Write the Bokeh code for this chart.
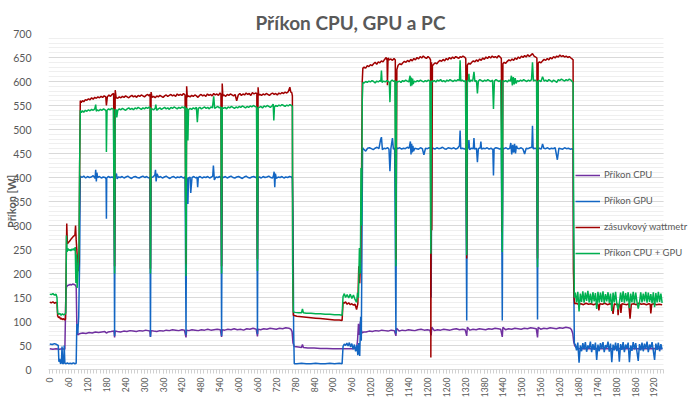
import math
from bokeh.plotting import figure
from bokeh.models import Range1d, SingleIntervalTicker, Legend, LegendItem
from bokeh.embed import file_html
from bokeh.resources import INLINE

# ---------------- data (time [s], power [W]) ----------------
cpu_t = [0, 10, 20, 30, 40, 48, 51, 53, 57, 61, 65, 69, 73, 77, 81, 84, 86, 89, 93, 97,
         105, 115, 125, 135, 145, 155, 165, 175, 180, 185, 195, 204, 206, 208,
         215, 225, 235, 245, 255, 265, 275, 285, 295, 305, 312, 318, 320, 322,
         330, 340, 350, 360, 370, 380, 390, 400, 410, 420, 428, 433, 435,
         442, 452, 462, 472, 482, 492, 502, 512, 522, 532, 542, 546, 548,
         556, 566, 576, 586, 596, 606, 616, 626, 636, 646, 656, 660, 662,
         670, 680, 690, 700, 710, 720, 730, 740, 750, 760, 766, 770, 773, 777,
         790, 800, 803, 806, 820, 840, 860, 880, 900, 920, 940, 960, 975, 978, 981, 984, 987, 990, 993, 997,
         1005, 1015, 1025, 1035, 1045, 1055, 1065, 1075, 1085, 1095, 1100, 1102,
         1110, 1120, 1130, 1140, 1150, 1160, 1170, 1180, 1190, 1200, 1208, 1212, 1214,
         1222, 1232, 1242, 1252, 1262, 1272, 1282, 1292, 1302, 1312, 1320, 1325, 1327,
         1335, 1345, 1355, 1365, 1375, 1385, 1395, 1405, 1415, 1425, 1433, 1438, 1440,
         1448, 1458, 1468, 1478, 1488, 1498, 1508, 1518, 1528, 1538, 1546, 1550, 1552,
         1560, 1570, 1580, 1590, 1600, 1610, 1620, 1630, 1640, 1648, 1654, 1658, 1662, 1665, 1668, 1672, 1680,
         1700, 1730, 1760, 1790, 1820, 1850, 1880, 1910, 1946]
cpu_w = [43, 42, 43, 42, 43, 42, 150, 172, 175, 176, 177, 176, 178, 177, 176, 172, 95, 72, 74, 75,
         76, 75, 77, 76, 78, 77, 78, 79, 76, 78, 79, 80, 67, 80,
         79, 78, 80, 79, 81, 80, 79, 81, 80, 82, 81, 80, 68, 81,
         80, 79, 81, 80, 82, 81, 83, 82, 81, 83, 82, 67, 82,
         81, 83, 82, 81, 83, 82, 84, 82, 83, 84, 83, 68, 83,
         82, 84, 83, 85, 83, 84, 82, 85, 84, 86, 84, 69, 84,
         83, 85, 84, 86, 85, 84, 86, 85, 87, 86, 84, 79, 55, 48,
         47, 46, 52, 46, 45, 45, 44, 44, 43, 43, 43, 43, 44, 60, 95, 72, 100, 82, 76, 78,
         78, 80, 79, 81, 80, 82, 81, 80, 82, 81, 70, 86,
         80, 82, 81, 83, 82, 81, 83, 84, 82, 83, 82, 71, 88,
         81, 83, 82, 84, 83, 82, 84, 85, 83, 84, 83, 70, 88,
         82, 84, 83, 85, 84, 83, 85, 84, 86, 85, 84, 68, 88,
         83, 85, 84, 86, 85, 84, 86, 85, 87, 86, 85, 67, 88,
         84, 86, 85, 87, 86, 85, 87, 86, 88, 87, 86, 83, 75, 58, 50, 46, 44,
         43, 44, 43, 43, 44, 43, 43, 44, 43]

gpu_t = [0, 8, 15, 22, 27, 29, 32, 34, 37, 39, 41, 44, 46, 48, 52, 56, 60, 65, 70, 75, 80, 84, 86, 89, 92, 95, 97,
         102, 108, 114, 120, 126, 132, 138, 144, 146, 148, 150, 152, 158, 164, 170, 176, 179, 180, 181, 186, 192, 198, 204,
         206, 208,
         212, 214, 218, 224, 230, 236, 242, 248, 254, 260, 266, 272, 278, 284, 290, 296, 302, 308, 314, 318,
         320, 322,
         328, 334, 336, 338, 341, 346, 352, 358, 364, 370, 376, 382, 388, 394, 400, 406, 412, 418, 424, 430,
         433, 435,
         437, 439, 441, 446, 448, 452, 458, 464, 468, 470, 472, 478, 484, 490, 496, 502, 508, 514, 518, 520, 523, 528, 534, 540, 544,
         546, 548,
         552, 558, 564, 570, 576, 582, 588, 594, 600, 606, 612, 618, 624, 630, 636, 642, 648, 654, 658,
         660, 662,
         666, 672, 678, 684, 690, 696, 702, 708, 711, 713, 715, 717, 720, 726, 732, 738, 744, 750, 756, 762, 768, 771, 773, 775, 777,
         785, 800, 815, 830, 845, 860, 875, 890, 905, 920, 929, 932, 936, 940, 944, 948, 952, 956, 960, 964, 968, 972, 976, 979, 982, 985, 988, 990, 992, 994,
         998, 1004, 1010, 1016, 1022, 1028, 1034, 1040, 1046, 1051, 1054, 1057, 1062, 1068, 1074, 1078, 1081, 1084, 1089, 1092, 1096,
         1100, 1102,
         1106, 1112, 1118, 1124, 1130, 1136, 1142, 1146, 1148, 1150, 1152, 1154, 1156, 1160, 1166, 1172, 1178, 1184, 1189, 1194, 1200, 1206, 1210,
         1212, 1214,
         1218, 1224, 1230, 1236, 1242, 1248, 1254, 1260, 1266, 1272, 1278, 1284, 1290, 1296, 1302, 1304, 1306, 1312, 1318, 1322,
         1325, 1327,
         1330, 1332, 1334, 1340, 1346, 1348, 1350, 1356, 1359, 1362, 1368, 1370, 1372, 1378, 1384, 1390, 1396, 1402, 1408, 1410, 1412, 1418, 1424, 1430, 1435,
         1438, 1440,
         1444, 1450, 1456, 1462, 1465, 1468, 1471, 1474, 1477, 1480, 1483, 1486, 1492, 1498, 1504, 1509, 1514, 1520, 1526, 1532, 1534, 1536, 1542, 1547,
         1550, 1552,
         1556, 1562, 1566, 1570, 1576, 1582, 1588, 1594, 1600, 1606, 1613, 1618, 1624, 1630, 1636, 1642, 1648, 1654, 1660, 1663, 1665, 1667,
         1670, 1674, 1678, 1682, 1686, 1690, 1694, 1698, 1702, 1706, 1710, 1714, 1718, 1722, 1726, 1730, 1734, 1738, 1742, 1746,
         1750, 1754, 1758, 1762, 1766, 1770, 1774, 1778, 1782, 1786, 1790, 1794, 1798, 1802, 1806, 1810, 1814, 1818, 1822, 1826,
         1830, 1834, 1838, 1842, 1846, 1850, 1854, 1858, 1862, 1866, 1870, 1874, 1878, 1882, 1886, 1890, 1894, 1898, 1902, 1906,
         1910, 1914, 1918, 1922, 1926, 1930, 1934, 1938, 1942, 1946]
gpu_w = [53, 52, 54, 52, 50, 16, 22, 12, 14, 48, 12, 13, 50, 13, 12, 14, 12, 13, 12, 14, 12, 13, 95, 75, 110, 230, 403,
         400, 403, 399, 402, 400, 401, 404, 398, 416, 392, 410, 400, 402, 399, 401, 400, 397, 314, 399, 402, 400, 401, 399,
         70, 402,
         408, 397, 401, 400, 402, 399, 401, 403, 400, 398, 401, 402, 400, 399, 401, 403, 400, 402, 399, 401,
         68, 400,
         401, 405, 416, 392, 408, 400, 402, 399, 401, 403, 400, 398, 401, 402, 399, 401, 400, 402, 399, 401,
         72, 400,
         396, 345, 399, 401, 368, 400, 402, 399, 401, 380, 400, 402, 399, 401, 400, 402, 399, 401, 403, 425, 395, 401, 400, 402, 399,
         70, 401,
         400, 402, 399, 401, 403, 400, 399, 401, 402, 400, 398, 401, 403, 400, 399, 401, 402, 400, 401,
         74, 400,
         401, 399, 402, 400, 401, 403, 400, 399, 404, 412, 380, 408, 398, 401, 400, 402, 399, 401, 400, 402, 401, 398, 320, 80, 12,
         12, 13, 12, 12, 13, 12, 12, 13, 12, 13, 12, 48, 53, 50, 55, 49, 56, 47, 54, 42, 52, 38, 51, 30, 55, 28, 110, 60, 250, 462,
         459, 455, 461, 462, 460, 458, 461, 463, 460, 478, 484, 458, 461, 460, 462, 459, 413, 460, 482, 459, 461,
         75, 462,
         460, 462, 459, 461, 460, 463, 461, 475, 448, 470, 452, 466, 455, 461, 460, 459, 462, 460, 447, 461, 460, 462, 461,
         150, 461,
         461, 459, 462, 460, 461, 463, 460, 459, 462, 461, 460, 462, 459, 461, 466, 498, 460, 461, 459, 462,
         102, 460,
         462, 478, 458, 461, 460, 482, 459, 461, 432, 460, 462, 475, 459, 461, 460, 462, 459, 461, 458, 404, 460, 462, 461, 459, 461,
         102, 461,
         460, 462, 459, 461, 472, 448, 468, 452, 470, 450, 466, 461, 460, 462, 459, 449, 461, 460, 462, 463, 508, 460, 461, 460,
         104, 460,
         461, 459, 470, 461, 460, 462, 459, 461, 460, 462, 437, 461, 460, 459, 462, 460, 461, 459, 460, 458, 200, 55,
         52, 40, 56, 14, 50, 38, 55, 42, 57, 37, 50, 44, 58, 36, 53, 41, 56, 20, 52, 38,
         55, 43, 57, 36, 51, 45, 58, 37, 54, 15, 52, 40, 56, 38, 55, 16, 53, 41, 57, 36,
         52, 44, 56, 15, 50, 39, 57, 42, 55, 37, 18, 53, 40, 56, 38, 54, 43, 58, 36, 52,
         45, 57, 39, 20, 54, 41, 56, 38, 53, 42]

wall_t = [0, 5, 10, 15, 20, 23, 25, 28, 31, 34, 37, 40, 44, 47, 50, 52, 54, 56, 60, 64, 68, 72, 76, 80, 82, 84, 87, 90, 93, 95, 97,
          100, 104, 108, 113, 118, 123, 128, 133, 138, 143, 148, 153, 158, 163, 168, 173, 178, 180, 183, 188, 193, 198, 203,
          206, 208,
          211, 216, 221, 226, 231, 236, 241, 246, 251, 256, 261, 266, 271, 276, 281, 286, 291, 296, 301, 306, 311, 316, 319,
          320, 322,
          325, 330, 335, 340, 345, 350, 355, 360, 365, 370, 375, 380, 385, 390, 395, 400, 405, 410, 415, 420, 425, 430,
          433, 435, 437,
          441, 446, 451, 456, 461, 466, 471, 476, 481, 486, 491, 496, 501, 506, 511, 516, 521, 526, 531, 536, 541, 544,
          546, 548, 550,
          554, 559, 564, 569, 574, 579, 584, 589, 594, 599, 604, 609, 614, 619, 624, 629, 634, 639, 644, 649, 654, 658,
          660, 662, 664,
          668, 673, 678, 683, 688, 693, 698, 703, 708, 713, 718, 723, 728, 733, 738, 743, 748, 753, 758, 763, 766, 769, 771,
          772, 774,
          785, 800, 815, 830, 845, 860, 875, 890, 905, 920, 929, 932, 936, 940, 945, 950, 955, 960, 965, 970, 975, 979, 982, 985, 988, 991, 993, 995,
          999, 1004, 1009, 1014, 1019, 1024, 1029, 1034, 1039, 1044, 1049, 1054, 1059, 1064, 1069, 1072, 1073, 1075, 1079, 1084, 1089, 1094, 1098,
          1100, 1103,
          1107, 1112, 1117, 1122, 1127, 1132, 1137, 1142, 1147, 1152, 1157, 1162, 1167, 1172, 1177, 1182, 1187, 1192, 1197, 1202, 1207, 1210,
          1211, 1213, 1214, 1216,
          1220, 1225, 1230, 1235, 1240, 1245, 1250, 1255, 1260, 1265, 1270, 1275, 1280, 1285, 1290, 1295, 1300, 1304, 1308, 1313, 1318, 1322,
          1325, 1327,
          1331, 1336, 1341, 1346, 1351, 1356, 1361, 1366, 1371, 1376, 1381, 1386, 1391, 1396, 1401, 1406, 1411, 1416, 1421, 1426, 1431, 1435,
          1438, 1440,
          1444, 1449, 1454, 1459, 1464, 1469, 1474, 1479, 1484, 1489, 1494, 1499, 1504, 1509, 1514, 1519, 1524, 1529, 1534, 1539, 1544, 1548,
          1550, 1552,
          1556, 1561, 1566, 1571, 1576, 1581, 1586, 1591, 1596, 1601, 1606, 1611, 1616, 1621, 1626, 1631, 1636, 1641, 1646, 1651, 1656, 1660, 1663,
          1664, 1666, 1668,
          1672, 1680, 1688, 1696, 1704, 1712, 1720, 1728, 1736, 1742, 1745, 1748, 1756, 1764, 1772, 1780, 1786, 1790, 1794, 1800,
          1804, 1806, 1809, 1813, 1815, 1818, 1826, 1834, 1840, 1844, 1848, 1856, 1864, 1872, 1880, 1888, 1896, 1904, 1908, 1910,
          1913, 1920, 1928, 1936, 1946]
wall_w = [140, 139, 141, 138, 140, 139, 112, 108, 110, 105, 107, 104, 106, 103, 105, 200, 304, 262, 265, 268, 272, 275, 278, 280, 300, 270, 240, 205, 230, 420, 560,
          556, 560, 558, 562, 561, 564, 562, 566, 563, 567, 565, 568, 566, 569, 567, 570, 568, 550, 568, 572, 569, 573, 575,
          215, 582,
          566, 565, 568, 566, 569, 567, 570, 568, 566, 569, 571, 568, 570, 567, 571, 569, 572, 570, 568, 571, 573, 570, 574,
          210, 578,
          567, 569, 566, 570, 568, 571, 569, 567, 570, 572, 569, 571, 573, 570, 572, 569, 574, 571, 573, 571, 575, 572,
          220, 590, 568,
          570, 568, 571, 569, 572, 570, 567, 571, 573, 570, 572, 569, 574, 571, 573, 570, 575, 572, 574, 571, 576, 573,
          215, 596, 570,
          572, 569, 573, 571, 574, 572, 570, 573, 560, 572, 575, 571, 574, 572, 576, 573, 575, 571, 577, 574, 576, 575,
          230, 588, 572,
          573, 571, 574, 572, 575, 573, 571, 574, 576, 573, 575, 572, 576, 574, 577, 575, 578, 576, 579, 588, 578, 577, 570,
          220, 113,
          111, 110, 109, 108, 107, 106, 105, 104, 103, 103, 102, 140, 138, 141, 136, 139, 135, 137, 134, 136, 125, 137, 215, 180, 235, 420, 600, 628,
          630, 628, 633, 631, 635, 633, 637, 640, 636, 641, 639, 643, 641, 646, 650, 644, 592, 649, 645, 647, 644, 648, 645,
          229, 625,
          634, 637, 635, 639, 642, 640, 644, 641, 646, 643, 648, 645, 650, 647, 652, 649, 653, 650, 648, 652, 649, 645,
          25, 640, 290, 633,
          636, 639, 637, 641, 644, 642, 646, 643, 648, 645, 650, 647, 651, 648, 652, 650, 648, 652, 650, 653, 651, 648,
          231, 634,
          638, 636, 640, 643, 641, 645, 642, 647, 644, 649, 646, 651, 648, 652, 649, 653, 650, 652, 649, 654, 651, 648,
          286, 637,
          640, 638, 642, 645, 643, 647, 644, 649, 646, 651, 648, 653, 650, 654, 651, 656, 652, 655, 658, 653, 651, 649,
          231, 638,
          641, 639, 643, 646, 644, 648, 645, 650, 647, 652, 649, 653, 651, 655, 652, 654, 651, 653, 650, 652, 649, 647, 645,
          209, 150, 137,
          138, 136, 137, 135, 138, 136, 137, 135, 137, 136, 123, 137, 136, 138, 135, 137, 136, 116, 137, 135,
          137, 113, 136, 135, 118, 137, 136, 135, 137, 106, 136, 137, 135, 138, 136, 137, 135, 137, 136, 117,
          136, 137, 135, 136, 135]

sum_t = [0, 5, 10, 15, 20, 23, 25, 28, 32, 36, 40, 44, 48, 51, 53, 55, 58, 61, 64, 67, 70, 73, 76, 79, 81, 83, 85, 87, 90, 93, 95, 97,
         100, 104, 108, 113, 118, 123, 128, 133, 138, 143, 146, 148, 151, 156, 161, 166, 171, 176, 179, 180, 182, 187, 192, 197, 202,
         206, 208,
         211, 213, 216, 221, 226, 231, 236, 241, 246, 251, 256, 261, 266, 271, 276, 281, 286, 291, 296, 301, 306, 311, 316, 319,
         320, 322,
         325, 330, 335, 337, 340, 345, 350, 355, 360, 365, 370, 375, 380, 385, 390, 395, 400, 405, 410, 415, 420, 425, 430,
         433, 435,
         437, 439, 441, 446, 451, 456, 461, 466, 469, 472, 477, 482, 487, 492, 497, 502, 507, 512, 517, 521, 524, 529, 534, 539, 544,
         546, 548,
         552, 557, 562, 567, 572, 577, 582, 587, 592, 597, 602, 607, 612, 617, 622, 627, 632, 637, 642, 647, 652, 657,
         660, 662,
         666, 671, 676, 681, 686, 691, 696, 701, 706, 710, 712, 714, 718, 723, 728, 733, 738, 743, 748, 753, 758, 763, 768, 771,
         772, 774,
         780, 790, 800, 803, 806, 815, 830, 845, 860, 875, 890, 905, 920, 929, 932, 936, 940, 945, 950, 955, 960, 965, 970, 975, 978, 981, 984, 987, 989, 991, 993, 995,
         999, 1004, 1009, 1014, 1019, 1024, 1029, 1034, 1039, 1044, 1049, 1052, 1054, 1056, 1061, 1066, 1071, 1076, 1079, 1081, 1083, 1088, 1093, 1097,
         1100, 1102,
         1106, 1111, 1116, 1121, 1126, 1131, 1136, 1141, 1145, 1147, 1149, 1151, 1153, 1155, 1158, 1163, 1168, 1173, 1178, 1183, 1188, 1193, 1198, 1203, 1208,
         1211, 1213,
         1217, 1222, 1227, 1232, 1237, 1242, 1247, 1252, 1257, 1262, 1267, 1272, 1277, 1282, 1287, 1292, 1297, 1302, 1304, 1306, 1311, 1316, 1321,
         1325, 1327,
         1330, 1332, 1334, 1339, 1344, 1348, 1351, 1356, 1359, 1362, 1367, 1372, 1377, 1382, 1387, 1392, 1397, 1402, 1407, 1410, 1413, 1418, 1423, 1428, 1433,
         1438, 1440,
         1444, 1449, 1454, 1459, 1464, 1467, 1470, 1473, 1476, 1479, 1482, 1486, 1491, 1496, 1501, 1506, 1511, 1516, 1521, 1526, 1531, 1534, 1537, 1542, 1547,
         1550, 1552,
         1556, 1561, 1566, 1571, 1576, 1581, 1586, 1591, 1596, 1601, 1606, 1611, 1616, 1621, 1626, 1631, 1636, 1641, 1646, 1651, 1656, 1660, 1663,
         1665, 1667,
         1670, 1674, 1678, 1682, 1686, 1690, 1694, 1698, 1702, 1706, 1710, 1714, 1718, 1722, 1726, 1730, 1734, 1738, 1742, 1746,
         1750, 1754, 1758, 1762, 1766, 1770, 1774, 1778, 1782, 1786, 1790, 1794, 1798, 1802, 1806, 1810, 1814, 1818, 1822, 1826,
         1830, 1834, 1838, 1842, 1846, 1850, 1854, 1858, 1862, 1866, 1870, 1874, 1878, 1882, 1886, 1890, 1894, 1898, 1902, 1906,
         1910, 1914, 1918, 1922, 1926, 1930, 1934, 1938, 1942, 1946]
sum_w = [157, 156, 158, 155, 157, 150, 118, 115, 117, 113, 116, 114, 115, 118, 279, 245, 252, 248, 250, 247, 251, 249, 252, 248, 255, 180, 240, 170, 210, 250, 430, 540,
         535, 539, 536, 540, 538, 541, 539, 542, 540, 543, 552, 538, 541, 539, 542, 540, 543, 541, 538, 453, 540, 543, 541, 544, 542,
         200, 541,
         541, 525, 540, 543, 541, 544, 542, 540, 543, 545, 542, 544, 541, 545, 543, 546, 544, 542, 545, 543, 546, 544, 547, 545,
         200, 542,
         543, 541, 544, 552, 540, 543, 545, 542, 544, 546, 543, 545, 542, 546, 544, 547, 545, 543, 546, 544, 547, 545, 548,
         195, 545,
         543, 477, 541, 544, 542, 545, 543, 546, 515, 544, 546, 543, 545, 547, 544, 546, 543, 547, 545, 569, 544, 546, 548, 545, 547,
         200, 546,
         544, 546, 543, 547, 545, 548, 546, 544, 547, 545, 548, 546, 549, 547, 545, 548, 546, 549, 547, 550, 548, 547,
         205, 545,
         546, 548, 545, 549, 547, 550, 548, 546, 549, 553, 519, 547, 550, 548, 551, 549, 552, 550, 548, 551, 549, 552, 550, 548,
         200, 120,
         119, 118, 118, 126, 118, 117, 117, 116, 116, 115, 115, 114, 114, 113, 152, 158, 150, 156, 149, 157, 148, 155, 146, 140, 160, 150, 253, 200, 420, 300, 560, 598,
         597, 600, 598, 601, 599, 602, 600, 597, 601, 599, 602, 600, 623, 598, 601, 599, 602, 600, 598, 557, 600, 603, 600, 602,
         215, 600,
         599, 601, 598, 602, 600, 603, 601, 599, 612, 590, 608, 592, 606, 595, 601, 599, 602, 600, 603, 601, 599, 602, 600, 603, 601,
         241, 601,
         600, 602, 599, 603, 601, 604, 600, 602, 599, 603, 601, 604, 602, 600, 603, 601, 604, 602, 644, 601, 603, 600, 602,
         238, 602,
         601, 616, 599, 603, 601, 620, 600, 602, 575, 601, 604, 602, 600, 603, 601, 604, 602, 600, 603, 543, 601, 604, 602, 600, 603,
         245, 602,
         600, 602, 599, 603, 601, 612, 592, 609, 594, 607, 596, 602, 600, 603, 601, 604, 602, 600, 603, 601, 604, 640, 601, 603, 600,
         213, 601,
         602, 600, 610, 601, 603, 600, 604, 602, 599, 603, 601, 598, 604, 602, 605, 603, 601, 604, 602, 605, 603, 600, 598,
         300, 150,
         160, 140, 162, 121, 158, 141, 163, 139, 160, 143, 164, 140, 158, 138, 161, 142, 159, 126, 162, 139,
         160, 141, 163, 138, 157, 142, 161, 139, 158, 122, 160, 140, 162, 137, 125, 138, 160, 141, 163, 139,
         159, 142, 161, 128, 158, 140, 162, 138, 160, 141, 127, 139, 161, 140, 158, 142, 162, 139, 160, 141,
         157, 138, 161, 130, 159, 140, 162, 141, 158, 139]

series_names = ["Příkon CPU", "Příkon GPU", "zásuvkový wattmetr", "Příkon CPU + GPU"]
series_colors = ["#7030A0", "#1366C3", "#A00000", "#00B050"]
title_text = "Příkon CPU, GPU a PC"
y_label = "Příkon [W]"
x_last = 1950

# ---------------- figure ----------------
FONT = "Lato"
TXT = "#595959"

p = figure(width=695, height=406, output_backend="svg", toolbar_location=None,
           x_range=Range1d(-4, 2052), y_range=Range1d(0, 700),
           min_border_left=48, min_border_right=0, min_border_top=33, min_border_bottom=37,
           title=title_text)
p.outline_line_color = None
p.background_fill_color = "white"
p.border_fill_color = "white"

p.title.text_font = FONT
p.title.text_font_style = "bold"
p.title.text_font_size = "19px"
p.title.text_color = TXT
p.title.align = "left"
p.title.offset = 207
p.title.standoff = 0

# y axis
p.yaxis.ticker = SingleIntervalTicker(interval=50, num_minor_ticks=5)
p.yaxis.axis_line_color = None
p.yaxis.major_tick_line_color = None
p.yaxis.minor_tick_line_color = None
p.yaxis.major_label_text_font = FONT
p.yaxis.major_label_text_font_size = "10.5px"
p.yaxis.major_label_text_color = TXT
p.yaxis.major_label_standoff = 11
p.yaxis.axis_label = y_label
p.yaxis.axis_label_text_font = FONT
p.yaxis.axis_label_text_font_style = "bold"
p.yaxis.axis_label_text_font_size = "11px"
p.yaxis.axis_label_text_color = TXT
p.yaxis.axis_label_standoff = -8

p.ygrid.grid_line_color = "#D9D9D9"
p.ygrid.minor_grid_line_color = "#EFEFEF"
p.ygrid.cross_bounds = (-4, x_last)
p.xgrid.grid_line_color = None

# x axis
p.xaxis.ticker = SingleIntervalTicker(interval=60, num_minor_ticks=6)
p.xaxis.bounds = (-4, x_last)
p.xaxis.axis_line_color = "#D9D9D9"
p.xaxis.major_tick_line_color = "#D0D0D0"
p.xaxis.minor_tick_line_color = "#D0D0D0"
p.xaxis.major_tick_out = 4
p.xaxis.major_tick_in = 0
p.xaxis.minor_tick_out = 4
p.xaxis.minor_tick_in = 0
p.xaxis.major_label_orientation = math.pi / 2
p.xaxis.major_label_text_font = FONT
p.xaxis.major_label_text_font_size = "8.5px"
p.xaxis.major_label_text_color = TXT
p.xaxis.major_label_standoff = 4

# lines (drawn in series order, last on top)
data = [(cpu_t, cpu_w), (gpu_t, gpu_w), (wall_t, wall_w), (sum_t, sum_w)]
renderers = []
for (tt, ww), c in zip(data, series_colors):
    renderers.append(p.line(tt, ww, line_color=c, line_width=1.5))

legend = Legend(items=[LegendItem(label=n, renderers=[r]) for n, r in zip(series_names, renderers)],
                location=(527, 111), orientation="vertical",
                label_text_font=FONT, label_text_font_size="9.5px", label_text_color=TXT,
                glyph_width=25, glyph_height=10, label_height=10, label_standoff=4,
                spacing=15, padding=0, margin=0,
                background_fill_alpha=0, border_line_alpha=0)
p.add_layout(legend)

open("out.html", "w").write(file_html(p, INLINE))
